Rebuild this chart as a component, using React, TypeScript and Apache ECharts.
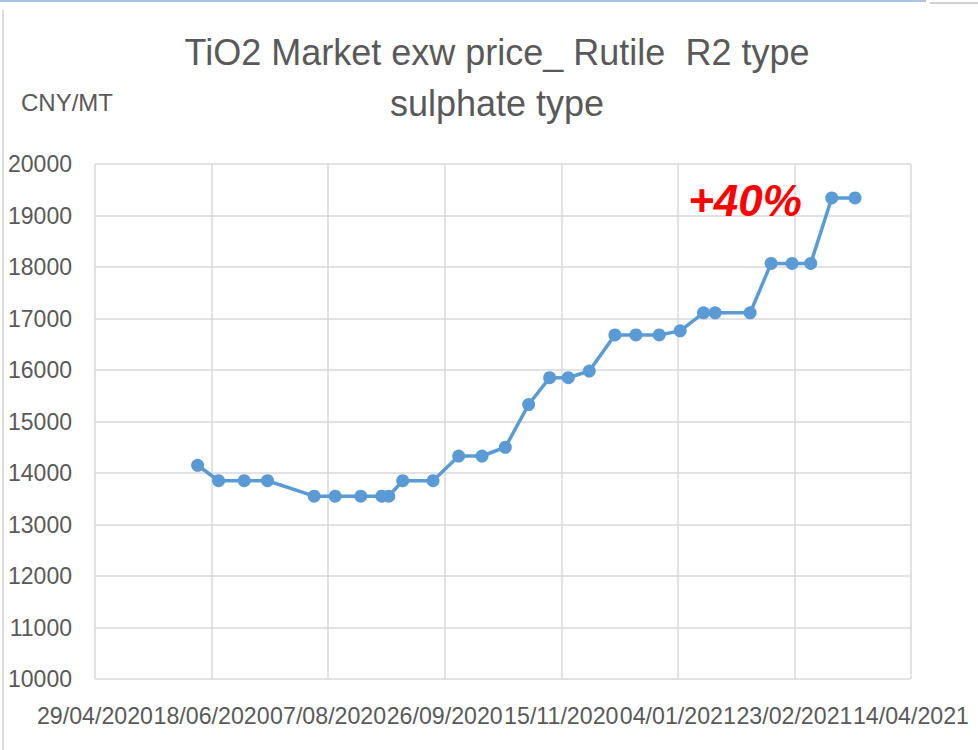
import React, { useEffect, useRef } from "react";
import * as echarts from "echarts";

const titleLines = ["TiO2 Market exw price_ Rutile  R2 type", "sulphate type"];
const unitLabel = "CNY/MT";
const annotation = "+40%";

const startDate = "2020-04-29";
const endDate = "2021-04-14";
const tickDays = 50;

const dates = [
  "2020-06-12", "2020-06-21", "2020-07-02", "2020-07-12", "2020-08-01",
  "2020-08-10", "2020-08-21", "2020-08-30", "2020-09-02", "2020-09-08",
  "2020-09-21", "2020-10-02", "2020-10-12", "2020-10-22", "2020-11-01",
  "2020-11-10", "2020-11-18", "2020-11-27", "2020-12-08", "2020-12-17",
  "2020-12-27", "2021-01-05", "2021-01-15", "2021-01-20", "2021-02-04",
  "2021-02-13", "2021-02-22", "2021-03-02", "2021-03-11", "2021-03-21",
];

const prices = [
  14150, 13850, 13850, 13850, 13550,
  13550, 13550, 13550, 13550, 13850,
  13850, 14330, 14330, 14500, 15330,
  15850, 15850, 15980, 16680, 16680,
  16680, 16760, 17110, 17110, 17110,
  18070, 18070, 18070, 19340, 19340,
];

const yMin = 10000;
const yMax = 20000;
const yStep = 1000;

const DAY = 86400000;
const t0 = Date.parse(startDate + "T00:00:00Z");
const dayOf = (s: string) => Math.round((Date.parse(s + "T00:00:00Z") - t0) / DAY);
const fmt = (d: number) => {
  const dt = new Date(t0 + d * DAY);
  const dd = String(dt.getUTCDate()).padStart(2, "0");
  const mm = String(dt.getUTCMonth() + 1).padStart(2, "0");
  return `${dd}/${mm}/${dt.getUTCFullYear()}`;
};

const FONT = '"Liberation Sans", Arial, sans-serif';
const GRAY = "#595959";

export default function App() {
  const ref = useRef<HTMLDivElement>(null);
  useEffect(() => {
    if (!ref.current) return;
    const chart = echarts.init(ref.current, undefined, { renderer: "svg" });
    const data = dates.map((d, i) => [dayOf(d), prices[i]]);
    chart.setOption({
      animation: false,
      backgroundColor: "#ffffff",
      grid: { left: 95, right: 67, top: 164, bottom: 71, containLabel: false, outerBoundsMode: "none" },
      xAxis: {
        type: "value",
        min: 0,
        max: dayOf(endDate),
        interval: tickDays,
        axisLine: { show: false },
        axisTick: { show: false },
        splitLine: { show: true, lineStyle: { color: "#d9d9d9", width: 1.5 } },
        axisLabel: {
          formatter: (v: number) => fmt(v),
          fontSize: 23.2,
          fontFamily: FONT,
          color: GRAY,
          margin: 25,
          hideOverlap: false,
          showMinLabel: true,
          showMaxLabel: true,
        },
      },
      yAxis: {
        type: "value",
        min: yMin,
        max: yMax,
        interval: yStep,
        axisLine: { show: false },
        axisTick: { show: false },
        splitLine: { show: true, lineStyle: { color: "#d9d9d9", width: 1.5 } },
        axisLabel: {
          formatter: (v: number) => String(v),
          fontSize: 23,
          fontFamily: FONT,
          color: GRAY,
          margin: 23,
        },
      },
      series: [
        {
          type: "line",
          data,
          symbol: "circle",
          symbolSize: 13,
          showSymbol: true,
          lineStyle: { color: "#5b9bd5", width: 3.5 },
          itemStyle: { color: "#5b9bd5" },
          z: 5,
        },
      ],
      graphic: [
        {
          type: "text",
          x: 497,
          y: 52,
          style: {
            text: titleLines[0],
            fill: GRAY,
            fontSize: 36,
            fontFamily: FONT,
            align: "center",
            verticalAlign: "middle",
            textAlign: "center",
            textVerticalAlign: "middle",
          },
        },
        {
          type: "text",
          x: 497,
          y: 103,
          style: {
            text: titleLines[1],
            fill: GRAY,
            fontSize: 36,
            fontFamily: FONT,
            align: "center",
            verticalAlign: "middle",
            textAlign: "center",
            textVerticalAlign: "middle",
          },
        },
        {
          type: "text",
          x: 21,
          y: 102,
          style: {
            text: unitLabel,
            fill: GRAY,
            fontSize: 24,
            fontFamily: FONT,
            align: "left",
            verticalAlign: "middle",
            textAlign: "left",
            textVerticalAlign: "middle",
          },
        },
        {
          type: "text",
          x: 745,
          y: 200,
          z: 10,
          style: {
            text: annotation,
            fill: "#ff0000",
            fontSize: 44,
            fontWeight: "bold",
            fontStyle: "italic",
            fontFamily: FONT,
            align: "center",
            verticalAlign: "middle",
            textAlign: "center",
            textVerticalAlign: "middle",
          },
        },
        {
          type: "line",
          shape: { x1: 0, y1: 1, x2: 926, y2: 1 },
          style: { stroke: "#a9c4e8", lineWidth: 2 },
        },
        {
          type: "line",
          shape: { x1: 930, y1: 3, x2: 978, y2: 3 },
          style: { stroke: "#d0d0d0", lineWidth: 2 },
        },
        {
          type: "line",
          shape: { x1: 3, y1: 10, x2: 3, y2: 750 },
          style: { stroke: "#d0d0d0", lineWidth: 1.5 },
        },
      ],
    });
    return () => chart.dispose();
  }, []);
  return (
    <div
      ref={ref}
      style={{ position: "absolute", left: 0, top: 0, width: 978, height: 750 }}
    />
  );
}
